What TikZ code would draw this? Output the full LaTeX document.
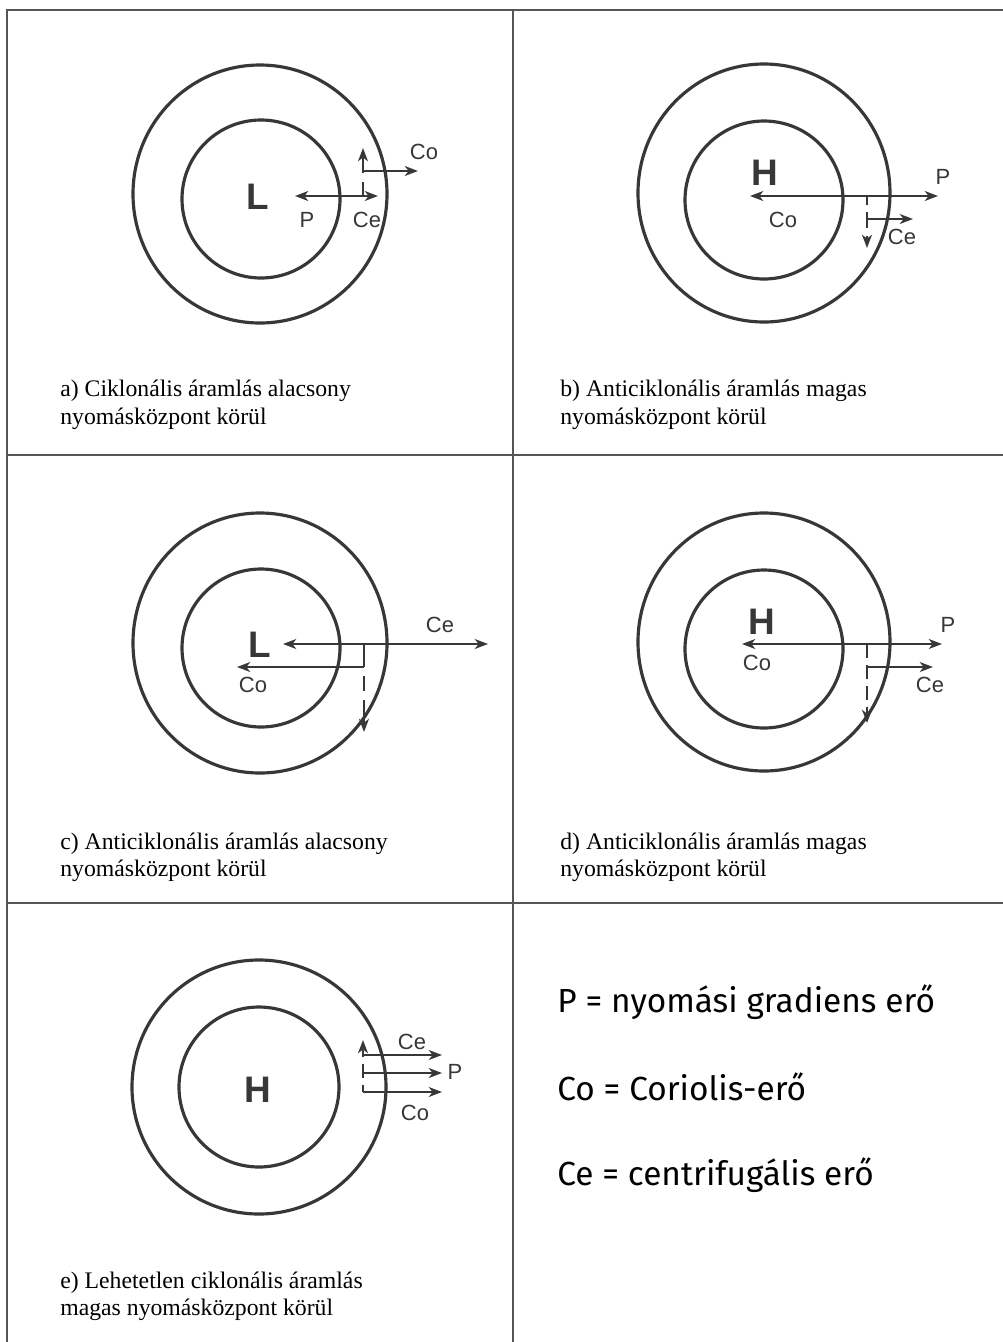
\documentclass[tikz,border=0pt]{standalone}
\usepackage{fontspec}
\setmainfont{Liberation Serif}
\newfontfamily\labelfont{Liberation Sans}
\newfontfamily\legendfont{Fira Sans}
\usetikzlibrary{arrows.meta}
\definecolor{Tinta}{RGB}{55,55,55}
\definecolor{Keret}{RGB}{85,85,85}

\begin{document}
\begin{tikzpicture}[x=0.2mm,y=-0.2mm,
  >={Stealth[length=7.5pt,width=5.6pt,inset=2.2pt]},
  keret/.style={line width=1.1pt,Keret},
  izobar/.style={line width=1.8pt,Tinta},
  ero/.style={->,line width=1.6pt,Tinta},
  szel/.style={->,line width=1.6pt,Tinta,dash pattern=on 6pt off 5pt},
  felirat/.style={font=\labelfont\fontsize{12.5}{14}\selectfont,text=Tinta,inner sep=0pt},
  kozep/.style={font=\labelfont\bfseries\fontsize{21}{24}\selectfont,text=Tinta,inner sep=0pt},
  cimke/.style={font=\fontsize{13.5}{16}\selectfont,anchor=base west,inner sep=0pt},
  jelmagy/.style={font=\legendfont\fontsize{19}{22}\selectfont,anchor=base west,inner sep=0pt}]
  \useasboundingbox (0,0) rectangle (1003,1342);
  \fill[white] (0,0) rectangle (1003,1342);

  % keret
  \draw[keret] (1003,10) -- (7,10) -- (7,1342);
  \draw[keret] (513,10) -- (513,1342);
  \draw[keret] (7,455) -- (1003,455);
  \draw[keret] (7,903) -- (1003,903);

  % a) ciklonalis, alacsony
  \draw[izobar] (260,194) ellipse [x radius=127*0.2mm, y radius=129*0.2mm];
  \draw[izobar] (261,199) circle [radius=79*0.2mm];
  \node[kozep] (aL) at (258,197) {L};
  \coordinate (a0) at (363,196);
  \coordinate (aP) at (295,196);
  \coordinate (aCe) at (378,196);
  \coordinate (aV) at (363,148);
  \coordinate (aCo0) at (363,171);
  \coordinate (aCo) at (418,171);
  \draw[ero] (a0) -- (aP);
  \draw[ero] (a0) -- (aCe);
  \draw[szel,dash pattern=on 8pt off 5pt on 30pt off 0pt] (a0) -- (aV);
  \draw[ero] (aCo0) -- (aCo);
  \node[felirat] (aCoT) at (424,152) {Co};
  \node[felirat] (aPT) at (307,220) {P};
  \node[felirat] (aCeT) at (367,220) {Ce};
  \node[cimke] (capA1) at (60,396) {a) Ciklonális áramlás alacsony};
  \node[cimke] (capA2) at (60,424) {nyomásközpont körül};

  % b) anticiklonalis, magas
  \draw[izobar] (764,193) ellipse [x radius=126*0.2mm, y radius=129*0.2mm];
  \draw[izobar] (764,200) circle [radius=79*0.2mm];
  \node[kozep] (bH) at (765,173) {H};
  \coordinate (b0) at (867,196);
  \coordinate (bCo) at (750,196);
  \coordinate (bP) at (938,196);
  \coordinate (bCe0) at (867,219);
  \coordinate (bCe) at (913,219);
  \coordinate (bV) at (867,248);
  \draw[ero] (b0) -- (bCo);
  \draw[ero] (b0) -- (bP);
  \draw[ero] (bCe0) -- (bCe);
  \draw[szel,dash pattern=on 5pt off 4pt on 9pt off 5pt] (b0) -- (bV);
  \node[felirat] (bCoT) at (783,220) {Co};
  \node[felirat] (bPT) at (943,177) {P};
  \node[felirat] (bCeT) at (902,237) {Ce};
  \node[cimke] (capB1) at (560,396) {b) Anticiklonális áramlás magas};
  \node[cimke] (capB2) at (560,424) {nyomásközpont körül};

  % c) anticiklonalis, alacsony
  \draw[izobar] (260,643) ellipse [x radius=127*0.2mm, y radius=130*0.2mm];
  \draw[izobar] (261,648) circle [radius=79*0.2mm];
  \node[kozep] (cL) at (260,645) {L};
  \coordinate (c0) at (364,644);
  \coordinate (cP) at (283,644);
  \coordinate (cCe) at (488,644);
  \coordinate (cCo0) at (364,667);
  \coordinate (cCo) at (237,667);
  \coordinate (cV) at (364,732);
  \draw[ero] (c0) -- (cP);
  \draw[ero] (c0) -- (cCe);
  \draw[ero] (cCo0) -- (cCo);
  \draw[szel,dash pattern=on 13pt off 5pt on 9pt off 5pt] (c0) -- (cV);
  \node[felirat] (cCoT) at (253,685) {Co};
  \node[felirat] (cCeT) at (440,625) {Ce};
  \node[cimke] (capC1) at (60,849) {c) Anticiklonális áramlás alacsony};
  \node[cimke] (capC2) at (60,876) {nyomásközpont körül};

  % d) anticiklonalis, magas
  \draw[izobar] (764,642) ellipse [x radius=126*0.2mm, y radius=129*0.2mm];
  \draw[izobar] (764,649) circle [radius=79*0.2mm];
  \node[kozep] (dH) at (762,622) {H};
  \coordinate (d0) at (867,644);
  \coordinate (dCo) at (742,644);
  \coordinate (dP) at (942,644);
  \coordinate (dCe0) at (867,667);
  \coordinate (dCe) at (933,667);
  \coordinate (dV) at (867,723);
  \draw[ero] (d0) -- (dCo);
  \draw[ero] (d0) -- (dP);
  \draw[ero] (dCe0) -- (dCe);
  \draw[szel,dash pattern=on 8pt off 4pt] (d0) -- (dV);
  \node[felirat] (dCoT) at (757,663) {Co};
  \node[felirat] (dPT) at (948,625) {P};
  \node[felirat] (dCeT) at (930,685) {Ce};
  \node[cimke] (capD1) at (560,849) {d) Anticiklonális áramlás magas};
  \node[cimke] (capD2) at (560,876) {nyomásközpont körül};

  % e) lehetetlen ciklonalis, magas
  \draw[izobar] (259,1087) circle [radius=127*0.2mm];
  \draw[izobar] (259,1087) circle [radius=80*0.2mm];
  \node[kozep] (eH) at (258,1090) {H};
  \coordinate (e0) at (363,1092);
  \coordinate (eCo) at (442,1092);
  \coordinate (eP0) at (363,1073);
  \coordinate (eP) at (442,1073);
  \coordinate (eCe0) at (363,1055);
  \coordinate (eCe) at (442,1055);
  \coordinate (eV) at (363,1040);
  \draw[ero] (e0) -- (eCo);
  \draw[ero] (eP0) -- (eP);
  \draw[ero] (eCe0) -- (eCe);
  \draw[szel,dash pattern=on 4pt off 4pt on 8pt off 4pt] (e0) -- (eV);
  \node[felirat] (eCeT) at (412,1042) {Ce};
  \node[felirat] (ePT) at (455,1072) {P};
  \node[felirat] (eCoT) at (415,1113) {Co};
  \node[cimke] (capE1) at (60,1288) {e) Lehetetlen ciklonális áramlás};
  \node[cimke] (capE2) at (60,1315) {magas nyomásközpont körül};

  % jelmagyarazat
  \node[jelmagy] (legP) at (557,1012) {P = nyomási gradiens erő};
  \node[jelmagy] (legCo) at (557,1100) {Co = Coriolis-erő};
  \node[jelmagy] (legCe) at (557,1185) {Ce = centrifugális erő};
\end{tikzpicture}
\end{document}
